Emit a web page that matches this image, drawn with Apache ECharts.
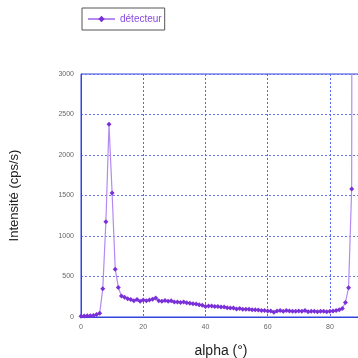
<!DOCTYPE html>
<html><head><meta charset="utf-8">
<script src="https://cdn.jsdelivr.net/npm/echarts@6/dist/echarts.min.js"></script>
<style>html,body{margin:0;padding:0;background:#fff}#c{width:358px;height:358px}</style>
</head><body><div id="c"></div>
<script>
const alpha = [0,1,2,3,4,5,6,7,8,9,10,11,12,13,14,15,16,17,18,19,20,21,22,23,24,25,26,27,28,29,30,31,32,33,34,35,36,37,38,39,40,41,42,43,44,45,46,47,48,49,50,51,52,53,54,55,56,57,58,59,60,61,62,63,64,65,66,67,68,69,70,71,72,73,74,75,76,77,78,79,80,81,82,83,84,85,86,87,88];
const detecteur = [10,12,15,15,20,30,45,350,1175,2380,1530,590,365,260,245,225,215,200,215,195,210,200,210,220,235,200,195,205,195,200,185,185,180,185,175,170,165,160,150,145,130,135,135,130,130,125,125,115,110,110,100,105,95,95,95,90,90,85,80,80,75,75,60,75,80,70,80,75,70,70,75,70,80,65,70,70,65,70,70,65,70,75,80,90,105,180,360,1580,30000];
const yTicks = [0,500,1000,1500,2000,2500,3000];
const xTicks = [0,20,40,60,80];

const chart = echarts.init(document.getElementById('c'), null, {renderer:'canvas'});
chart.setOption({
  animation:false,
  backgroundColor:'#fff',
  legend:{
    left:82, top:8, orient:'horizontal',
    borderColor:'#555', borderWidth:1, padding:[6,3,6,5],
    itemWidth:27, itemHeight:8, itemGap:4,
    textStyle:{color:'#8a4ae0', fontSize:10, fontFamily:'Liberation Sans'},
    data:['détecteur']
  },
  grid:{left:81, top:74, bottom:41, right:-3, show:true, borderColor:'#3344dd', borderWidth:1, outerBoundsMode:'none', containLabel:false},
  xAxis:{
    type:'value', min:0, max:90, interval:20,
    name:'alpha (°)', nameLocation:'middle', nameGap:27,
    nameTextStyle:{fontSize:14, color:'#222', fontFamily:'Liberation Sans'},
    axisLine:{show:true, lineStyle:{color:'#3344dd', width:1}},
    axisTick:{show:false},
    axisLabel:{fontSize:7, color:'#666', margin:7, showMaxLabel:false, formatter:v=>xTicks.includes(v)?String(v):''},
    splitLine:{show:true, lineStyle:{color:'#5566ee', type:[2,2], width:1}}
  },
  yAxis:{
    type:'value', min:0, max:3000, interval:500,
    name:'Intensité (cps/s)', nameLocation:'middle', nameGap:60,
    nameTextStyle:{fontSize:13, color:'#222', fontFamily:'Liberation Sans'},
    axisLine:{show:true, lineStyle:{color:'#3344dd', width:1}},
    axisTick:{show:false},
    axisLabel:{fontSize:7, color:'#666', margin:7, formatter:v=>yTicks.includes(v)?String(v):''},
    splitLine:{show:true, lineStyle:{color:'#6677ee', type:[2,2], width:1}}
  },
  series:[{
    name:'détecteur', type:'line',
    data:alpha.map((a,i)=>[a,detecteur[i]]),
    symbol:'diamond', symbolSize:5, showSymbol:true, clip:true,
    lineStyle:{color:'#b48af0', width:1.2},
    itemStyle:{color:'#7a30d8'}
  }]
});
</script></body></html>
